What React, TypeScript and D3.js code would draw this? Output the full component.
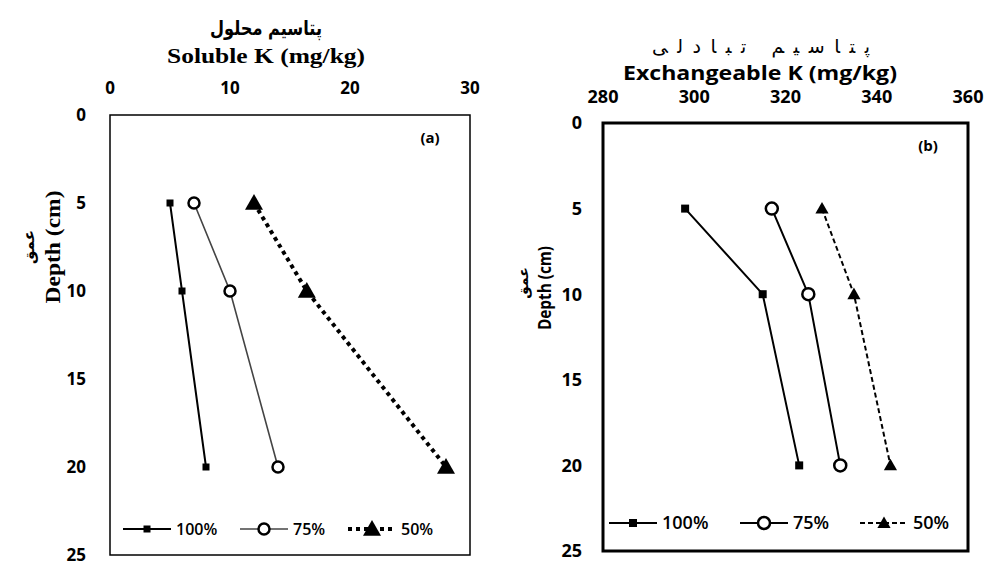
import React from 'react'
import * as d3 from 'd3'

const depths = [5, 10, 20]
const depthTicks = [0, 5, 10, 15, 20, 25]
const seriesNames = ['100%', '75%', '50%']

// panel (a): soluble K
const solubleTicks = [0, 10, 20, 30]
const soluble100 = [5, 6, 8]
const soluble75 = [7, 10, 14]
const soluble50 = [12, 16.4, 28]

// panel (b): exchangeable K
const exchTicks = [280, 300, 320, 340, 360]
const exch100 = [298, 315, 323]
const exch75 = [317, 325, 332]
const exch50 = [328, 335, 343]

const sans = "'Open Sans', 'Noto Sans', sans-serif"
const serif = "'Liberation Serif', 'Times New Roman', serif"
const arabic = "'DejaVu Sans', sans-serif"

const Marker = ({ kind, x, y, size }) => {
  if (kind === 'square') {
    return <rect x={x - size / 2} y={y - size / 2} width={size} height={size} fill="#000" />
  }
  if (kind === 'circle') {
    return <circle cx={x} cy={y} r={size} fill="#fff" stroke="#000" strokeWidth={2.5} />
  }
  const h = size
  return (
    <path
      d={`M${x},${y - h * 0.6}L${x + h * 0.6},${y + h * 0.45}L${x - h * 0.6},${y + h * 0.45}Z`}
      fill="#000"
    />
  )
}

const Panel = props => {
  const { box, xDomain, xTicks, yRange, series, styles, frameWidth, label, legendY, legendX, fs } = props
  const x = d3.scaleLinear().domain(xDomain).range([box.left, box.right])
  const y = d3.scaleLinear().domain([0, 25]).range(yRange)
  const line = d3
    .line<number>()
    .x(d => x(d))
    .y((d, i) => y(depths[i]))

  return (
    <g>
      <rect
        x={box.left}
        y={y(0)}
        width={box.right - box.left}
        height={y(25) - y(0)}
        fill="none"
        stroke="#000"
        strokeWidth={frameWidth}
      />
      {xTicks.map(t => (
        <text
          key={'x' + t}
          x={x(t)}
          y={props.xTickY}
          textAnchor="middle"
          fontFamily={sans}
          fontWeight="bold"
          fontSize={fs}
        >
          {t}
        </text>
      ))}
      {depthTicks.map(t => (
        <text
          key={'y' + t}
          x={props.yTickX}
          y={y(t) + fs * 0.36}
          textAnchor="end"
          fontFamily={sans}
          fontWeight="bold"
          fontSize={fs}
        >
          {t}
        </text>
      ))}
      <text
        x={box.right - 40}
        y={y(0) + 28}
        textAnchor="middle"
        fontFamily={sans}
        fontWeight="bold"
        fontSize={15}
      >
        {label}
      </text>
      {series.map((vals, i) => (
        <g key={'s' + i}>
          <path
            d={line(vals)}
            fill="none"
            stroke={styles[i].color}
            strokeWidth={styles[i].width}
            strokeDasharray={styles[i].dash}
          />
          {vals.map((v, j) => (
            <Marker key={j} kind={styles[i].marker} x={x(v)} y={y(depths[j])} size={styles[i].size} />
          ))}
        </g>
      ))}
      {seriesNames.map((name, i) => (
        <g key={'l' + name}>
          <line
            x1={legendX[i]}
            x2={legendX[i] + 48}
            y1={legendY}
            y2={legendY}
            stroke={styles[i].color}
            strokeWidth={styles[i].width}
            strokeDasharray={styles[i].dash}
          />
          <Marker kind={styles[i].marker} x={legendX[i] + 24} y={legendY} size={styles[i].size} />
          <text
            x={legendX[i] + 53}
            y={legendY + 6}
            fontFamily={sans}
            fontSize={props.legendFs}
            fontWeight="600"
          >
            {name}
          </text>
        </g>
      ))}
    </g>
  )
}

export default function App() {
  const stylesA = [
    { color: '#000', width: 2, dash: null, marker: 'square', size: 7 },
    { color: '#444', width: 1.6, dash: null, marker: 'circle', size: 5.5 },
    { color: '#000', width: 4, dash: '4 4', marker: 'triangle', size: 15 },
  ]
  const stylesB = [
    { color: '#000', width: 2, dash: null, marker: 'square', size: 8 },
    { color: '#000', width: 2, dash: null, marker: 'circle', size: 6 },
    { color: '#000', width: 2, dash: '5 3', marker: 'triangle', size: 11 },
  ]
  return (
    <svg width={986} height={561} style={{ position: 'absolute', left: 0, top: 0 }}>
      <rect width={986} height={561} fill="#fff" />
      {/* panel (a) */}
      <text
        x={266}
        y={35}
        textAnchor="middle"
        fontFamily={arabic}
        fontWeight="bold"
        fontSize={20}
        textLength={112}
        lengthAdjust="spacingAndGlyphs"
      >
        پتاسیم محلول
      </text>
      <text
        x={266}
        y={63}
        textAnchor="middle"
        fontFamily={serif}
        fontWeight="bold"
        fontSize={21}
        textLength={198}
        lengthAdjust="spacingAndGlyphs"
      >
        Soluble K (mg/kg)
      </text>
      <g transform="translate(60,247) rotate(-90)">
        <text textAnchor="middle" fontFamily={serif} fontWeight="bold" fontSize={20} textLength={113} lengthAdjust="spacingAndGlyphs">
          Depth (cm)
        </text>
      </g>
      <g transform="translate(34,247) rotate(-90)">
        <text textAnchor="middle" fontFamily={arabic} fontWeight="bold" fontSize={15}>
          عمق
        </text>
      </g>
      <Panel
        box={{ left: 110, right: 470 }}
        xDomain={[0, 30]}
        xTicks={solubleTicks}
        yRange={[115, 555]}
        xTickY={94}
        yTickX={86}
        fs={17}
        legendFs={16}
        series={[soluble100, soluble75, soluble50]}
        styles={stylesA}
        frameWidth={1.5}
        label="(a)"
        legendY={529}
        legendX={[123, 240, 348]}
      />
      {/* panel (b) */}
      <text
        x={761}
        y={53}
        textAnchor="middle"
        fontFamily={arabic}
        fontSize={19}
        textLength={218}
        lengthAdjust="spacing"
      >
        پتاسیم  تبادلی
      </text>
      <text
        x={760}
        y={80}
        textAnchor="middle"
        fontFamily={sans}
        fontWeight="bold"
        fontSize={19}
        textLength={274}
        lengthAdjust="spacingAndGlyphs"
      >
        Exchangeable K (mg/kg)
      </text>
      <g transform="translate(551,288) rotate(-90)">
        <text textAnchor="middle" fontFamily={sans} fontWeight="bold" fontSize={17} textLength={84} lengthAdjust="spacingAndGlyphs">
          Depth (cm)
        </text>
      </g>
      <g transform="translate(528,283) rotate(-90)">
        <text textAnchor="middle" fontFamily={arabic} fontWeight="bold" fontSize={14}>
          عمق
        </text>
      </g>
      <Panel
        box={{ left: 603, right: 968 }}
        xDomain={[280, 360]}
        xTicks={exchTicks}
        yRange={[123, 551]}
        xTickY={103}
        yTickX={582}
        fs={18}
        legendFs={18}
        series={[exch100, exch75, exch50]}
        styles={stylesB}
        frameWidth={3}
        label="(b)"
        legendY={523}
        legendX={[609, 740, 860]}
      />
    </svg>
  )
}
